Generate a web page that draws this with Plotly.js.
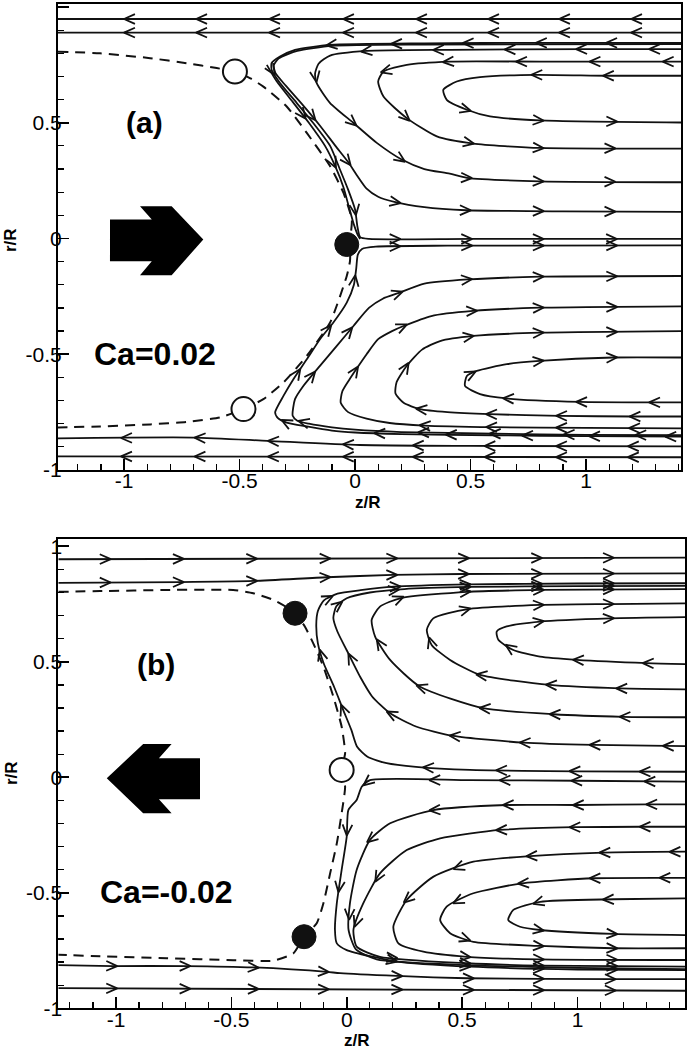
<!DOCTYPE html>
<html><head><meta charset="utf-8">
<script src="https://cdn.plot.ly/plotly-3.0.1.min.js"></script>
<style>html,body{margin:0;padding:0;background:#fff}#chart{width:687px;height:1050px}</style>
</head><body><div id="chart"></div>
<script>
// ---------------- DATA : panel (a), Ca = 0.02 ----------------
const tickVals = [-1, -0.5, 0, 0.5, 1];
const tickText = ['-1', '-0.5', '0', '0.5', '1'];
const wallArrowsA = [-0.983, -0.671, -0.355, -0.035, 0.281, 0.593, 0.90, 1.212];

const a_wall1 = {z:[1.411,-1.286], r:[0.948,0.948], az:wallArrowsA};
const a_wall2 = {z:[1.411,-1.286], r:[0.889,0.889], az:wallArrowsA};
const a_s1 = {z:[1.411,0.8,0.3,-0.108,-0.26,-0.325,-0.361,-0.361,-0.325,-0.253,-0.182,-0.108,-0.065,-0.03,0.0,0.01,0.022,0.06,0.5,1.411],
              r:[0.845,0.845,0.843,0.836,0.815,0.786,0.758,0.728,0.672,0.586,0.50,0.40,0.297,0.211,0.125,0.053,0.006,-0.002,-0.002,-0.002],
              arrows:[[-0.108,0.836],[0.173,0.843],[0.483,0.843],[0.80,0.845],[1.104,0.845],[-0.346,0.728],[0.007,0.118],[0.18,-0.002],[0.49,-0.002],[0.80,-0.002],[1.117,-0.002]]};
const a_s1b = {z:[-0.382,-0.34,-0.27,-0.2,-0.13,-0.085,-0.05,-0.025,-0.005,0.012,0.022],
               r:[0.75,0.68,0.59,0.50,0.40,0.31,0.22,0.13,0.06,0.015,-0.002],
               arrows:[[-0.23,0.527],[-0.08,0.326]]};
const a_s2 = {z:[1.411,0.3,-0.1,-0.25,-0.33,-0.352,-0.345,-0.30,-0.225,-0.15,-0.085,-0.03,0.01,0.05,0.1,0.17,0.3,0.48,0.9,1.411],
              r:[0.840,0.838,0.832,0.81,0.778,0.748,0.715,0.66,0.575,0.485,0.40,0.33,0.27,0.215,0.18,0.158,0.135,0.122,0.117,0.115],
              arrows:[[-0.187,0.52],[-0.03,0.33],[0.18,0.154],[0.484,0.122],[0.80,0.117],[1.11,0.116]]};
const a_s3 = {z:[1.411,1.0,0.41,0.05,-0.108,-0.158,-0.173,-0.166,-0.108,-0.007,0.094,0.202,0.30,0.41,0.484,0.80,1.411],
              r:[0.818,0.818,0.815,0.81,0.79,0.755,0.713,0.671,0.585,0.499,0.413,0.341,0.30,0.28,0.262,0.247,0.243],
              arrows:[[0.043,0.81],[0.354,0.816],[0.664,0.817],[0.974,0.818],[1.29,0.818],[-0.166,0.693],[-0.007,0.499],[0.202,0.341],[0.489,0.262],[0.80,0.247],[1.11,0.245]]};
const a_s4 = {z:[1.411,0.8,0.41,0.224,0.123,0.10,0.123,0.224,0.354,0.512,0.80,1.411],
              r:[0.764,0.764,0.764,0.75,0.721,0.678,0.613,0.52,0.441,0.41,0.391,0.388],
              arrows:[[0.397,0.764],[0.714,0.764],[1.032,0.764],[1.349,0.764],[0.13,0.714],[0.224,0.52],[0.498,0.41],[0.80,0.391],[1.11,0.388]]};
const a_s5 = {z:[1.411,1.09,0.78,0.541,0.44,0.382,0.397,0.484,0.584,0.80,1.411],
              r:[0.703,0.703,0.707,0.697,0.678,0.642,0.599,0.556,0.527,0.51,0.501],
              arrows:[[0.78,0.707],[1.09,0.703],[0.484,0.552],[0.80,0.51],[1.118,0.506]]};
const wallArrowsA2 = [-0.996, -0.678, -0.36, -0.036, 0.267, 0.577, 0.887, 1.198];
const a_wall3 = {z:[1.411,0.5,0.02,-0.38,-0.7,-1.286], r:[-0.898,-0.896,-0.892,-0.874,-0.86,-0.863], az:wallArrowsA2};
const a_wall4 = {z:[1.411,-1.286], r:[-0.945,-0.941], az:wallArrowsA2};
const a_l1 = {z:[1.411,1.0,0.6,0.2,0.0,-0.1,-0.209,-0.296,-0.335,-0.346,-0.31,-0.267,-0.209,-0.152,-0.094,-0.036,-0.005,0.005,0.012,0.03,0.09,0.4,1.411],
              r:[-0.856,-0.854,-0.85,-0.845,-0.838,-0.83,-0.812,-0.795,-0.775,-0.751,-0.68,-0.608,-0.522,-0.435,-0.363,-0.277,-0.2,-0.13,-0.07,-0.045,-0.035,-0.031,-0.03],
              arrows:[[-0.303,-0.79],[-0.245,-0.579],[-0.108,-0.392],[0.007,-0.177],[0.18,-0.031],[0.49,-0.031],[0.80,-0.031],[1.118,-0.031],[0.10,-0.842],[0.41,-0.848],[0.74,-0.852],[1.03,-0.855],[1.36,-0.856]]};
const a_l2 = {z:[1.411,1.0,0.6,0.2,0.0,-0.1,-0.2,-0.25,-0.27,-0.26,-0.224,-0.152,-0.079,-0.007,0.06,0.12,0.19,0.3,0.49,0.8,1.411],
              r:[-0.85,-0.848,-0.843,-0.836,-0.826,-0.816,-0.80,-0.787,-0.766,-0.694,-0.637,-0.55,-0.464,-0.378,-0.30,-0.26,-0.235,-0.195,-0.177,-0.165,-0.162],
              arrows:[[-0.23,-0.795],[-0.187,-0.586],[-0.029,-0.392],[0.19,-0.235],[0.49,-0.177],[0.80,-0.165],[1.118,-0.162],[0.29,-0.838],[0.60,-0.844],[0.92,-0.847],[1.23,-0.849]]};
const a_l3 = {z:[1.411,1.0,0.6,0.3,0.15,0.05,-0.03,-0.062,-0.055,-0.025,0.005,0.05,0.10,0.16,0.21,0.33,0.51,0.8,1.411],
              r:[-0.82,-0.818,-0.815,-0.808,-0.797,-0.778,-0.75,-0.71,-0.66,-0.61,-0.565,-0.50,-0.435,-0.40,-0.378,-0.335,-0.313,-0.299,-0.293],
              arrows:[[0.0,-0.565],[0.21,-0.38],[0.512,-0.313],[0.8,-0.299],[1.118,-0.295],[0.296,-0.809],[0.584,-0.815],[0.887,-0.817],[1.203,-0.819]]};
const a_l4 = {z:[1.411,1.205,0.887,0.584,0.4,0.281,0.21,0.175,0.18,0.224,0.29,0.368,0.512,0.80,1.411],
              r:[-0.769,-0.769,-0.766,-0.759,-0.75,-0.737,-0.71,-0.67,-0.62,-0.55,-0.48,-0.443,-0.421,-0.407,-0.40],
              arrows:[[1.205,-0.769],[0.887,-0.766],[0.584,-0.759],[0.281,-0.737],[0.231,-0.557],[0.498,-0.425],[0.80,-0.407],[1.118,-0.404]]};
const a_l5 = {z:[1.411,1.29,0.974,0.657,0.541,0.476,0.484,0.527,0.657,0.80,1.118,1.411],
              r:[-0.708,-0.708,-0.706,-0.691,-0.672,-0.637,-0.594,-0.572,-0.543,-0.529,-0.514,-0.514],
              arrows:[[1.29,-0.708],[0.974,-0.706],[0.657,-0.691],[0.505,-0.579],[0.80,-0.529],[1.118,-0.514]]};
const a_interface_z = [-1.286,-1.104,-0.887,-0.729,-0.599,-0.52,-0.45,-0.397,-0.296,-0.209,-0.108,-0.05,-0.014,-0.02,-0.022,-0.036,-0.108,-0.209,-0.31,-0.397,-0.483,-0.584,-0.729,-0.887,-1.104,-1.286];
const a_interface_r = [0.807,0.80,0.779,0.757,0.736,0.721,0.69,0.656,0.57,0.456,0.312,0.197,0.082,0.0,-0.098,-0.162,-0.363,-0.507,-0.622,-0.694,-0.737,-0.773,-0.792,-0.803,-0.812,-0.816];
const a_open_z = [-0.52, -0.483], a_open_r = [0.721, -0.737];
const a_fill_z = [-0.036], a_fill_r = [-0.026];
const a_bigArrow_z = [-1.061,-0.880,-0.931,-0.794,-0.657,-0.794,-0.931,-0.880,-1.061];
const a_bigArrow_r = [0.082,0.082,0.139,0.139,-0.004,-0.159,-0.159,-0.098,-0.098];

// ---------------- DATA : panel (b), Ca = -0.02 ----------------
const wallArrowsB = [-1.04, -0.723, -0.405, -0.087, 0.202, 0.513, 0.83, 1.141];
const b_wall1 = {z:[-1.25,1.466], r:[0.944,0.951], az:wallArrowsB};
const b_wall2 = {z:[-1.25,-0.723,-0.405,-0.087,0.2,0.5,1.466], r:[0.842,0.845,0.85,0.866,0.876,0.88,0.883], az:wallArrowsB};
const b_u1 = {z:[1.466,1.0,0.534,0.3,0.173,0.09,0.045,0.02,-0.015,-0.055,-0.1,-0.125,-0.132,-0.125,-0.1,-0.04,0.06,0.202,0.534,1.0,1.466],
              r:[0.024,0.026,0.032,0.045,0.061,0.089,0.132,0.205,0.291,0.392,0.494,0.58,0.66,0.72,0.765,0.795,0.81,0.825,0.835,0.839,0.84],
              arrows:[[0.347,0.043],[0.664,0.03],[0.982,0.026],[1.286,0.025],[-0.015,0.30],[-0.108,0.537],[-0.072,0.77],[0.217,0.826],[0.52,0.835],[0.83,0.838],[1.141,0.839]]};
const b_u2 = {z:[1.466,1.069,0.766,0.462,0.3,0.188,0.11,0.058,0.0,-0.04,-0.058,-0.045,0.0,0.1,0.25,0.534,1.0,1.466],
              r:[0.135,0.14,0.15,0.179,0.22,0.277,0.35,0.435,0.55,0.63,0.69,0.74,0.775,0.80,0.815,0.824,0.828,0.829],
              arrows:[[1.387,0.135],[1.069,0.14],[0.766,0.15],[0.462,0.179],[0.188,0.277],[0.014,0.52],[-0.029,0.745],[0.21,0.812],[0.52,0.824],[0.83,0.828],[1.141,0.829]]};
const b_u3 = {z:[1.466,1.199,0.896,0.592,0.318,0.188,0.123,0.108,0.144,0.231,0.52,0.838,1.466],
              r:[0.26,0.262,0.273,0.299,0.392,0.508,0.609,0.681,0.739,0.775,0.803,0.811,0.815],
              arrows:[[1.199,0.262],[0.896,0.273],[0.592,0.299],[0.318,0.392],[0.123,0.573],[0.231,0.775],[0.52,0.803],[0.838,0.81],[1.141,0.813]]};
const b_u4 = {z:[1.466,1.185,0.88,0.578,0.448,0.368,0.347,0.375,0.52,0.838,1.141,1.466],
              r:[0.381,0.385,0.40,0.443,0.508,0.573,0.638,0.688,0.727,0.746,0.75,0.753],
              arrows:[[1.185,0.385],[0.88,0.40],[0.578,0.443],[0.354,0.587],[0.52,0.727],[0.838,0.746],[1.141,0.75]]};
const b_u5 = {z:[1.466,1.3,0.997,0.838,0.722,0.657,0.65,0.693,0.838,1.141,1.466],
              r:[0.49,0.494,0.508,0.522,0.551,0.595,0.631,0.653,0.674,0.688,0.693],
              arrows:[[1.3,0.494],[0.997,0.508],[0.70,0.56],[0.838,0.674],[1.141,0.688]]};
const b_d1 = {z:[1.466,1.0,0.535,0.101,0.065,0.043,0.007,0.0,-0.022,-0.043,-0.051,-0.043,0.0,0.217,0.535,1.0,1.466],
              r:[-0.019,-0.015,-0.012,-0.012,-0.041,-0.098,-0.142,-0.257,-0.401,-0.545,-0.661,-0.719,-0.748,-0.798,-0.82,-0.832,-0.835],
              arrows:[[1.307,-0.017],[0.99,-0.015],[0.679,-0.013],[0.375,-0.012],[0.087,-0.026],[0.0,-0.235],[-0.035,-0.48],[0.202,-0.795],[0.52,-0.82],[0.838,-0.83],[1.156,-0.833]]};
const b_d2 = {z:[1.466,1.315,0.997,0.693,0.375,0.188,0.101,0.043,0.014,0.008,0.04,0.13,0.52,1.0,1.466],
              r:[-0.117,-0.117,-0.12,-0.12,-0.142,-0.199,-0.271,-0.401,-0.545,-0.661,-0.745,-0.788,-0.813,-0.825,-0.831],
              arrows:[[1.315,-0.117],[0.997,-0.12],[0.693,-0.12],[0.375,-0.142],[0.101,-0.271],[0.02,-0.6]]};
const b_d3 = {z:[1.466,1.286,0.982,0.664,0.405,0.26,0.144,0.072,0.029,0.043,0.144,0.52,0.838,1.466],
              r:[-0.214,-0.214,-0.216,-0.228,-0.264,-0.315,-0.416,-0.545,-0.661,-0.733,-0.777,-0.805,-0.815,-0.82],
              arrows:[[1.286,-0.214],[0.982,-0.216],[0.664,-0.228],[0.144,-0.444],[0.035,-0.63],[0.202,-0.79],[0.52,-0.805],[0.838,-0.815],[1.156,-0.818]]};
const b_d4 = {z:[1.466,1.112,0.795,0.549,0.376,0.26,0.202,0.224,0.332,0.52,0.838,1.466],
              r:[-0.322,-0.326,-0.341,-0.365,-0.43,-0.531,-0.647,-0.719,-0.755,-0.777,-0.788,-0.791],
              arrows:[[1.416,-0.322],[1.112,-0.326],[0.795,-0.341],[0.477,-0.387],[0.26,-0.531],[0.52,-0.777],[0.838,-0.788],[1.156,-0.79]]};
const b_d5 = {z:[1.466,1.372,1.069,0.759,0.549,0.433,0.405,0.448,0.549,0.838,1.156,1.466],
              r:[-0.435,-0.435,-0.437,-0.459,-0.502,-0.56,-0.618,-0.675,-0.712,-0.73,-0.74,-0.74],
              arrows:[[1.372,-0.435],[1.069,-0.437],[0.759,-0.459],[0.477,-0.539],[0.52,-0.701],[0.838,-0.73],[1.156,-0.74]]};
const b_d6 = {z:[1.466,1.156,0.838,0.722,0.70,0.751,0.838,1.156,1.466],
              r:[-0.524,-0.528,-0.539,-0.574,-0.618,-0.647,-0.661,-0.678,-0.683],
              arrows:[[1.127,-0.526],[0.824,-0.542],[0.838,-0.661],[1.156,-0.678]]};
const wallArrowsB2 = [-1.012, -0.694, -0.398, -0.094, 0.224, 0.534, 0.838, 1.149];
const b_wall3 = {z:[-1.25,-1.012,-0.694,-0.405,-0.087,-0.029,0.217,0.52,1.156,1.466], r:[-0.813,-0.817,-0.817,-0.823,-0.842,-0.848,-0.86,-0.87,-0.874,-0.874], az:wallArrowsB2};
const b_wall4 = {z:[-1.25,1.466], r:[-0.913,-0.924], az:wallArrowsB2};
const b_interface_z = [-1.25,-1.069,-0.78,-0.492,-0.405,-0.318,-0.26,-0.224,-0.181,-0.145,-0.101,-0.058,-0.022,-0.007,-0.022,-0.007,-0.022,-0.043,-0.072,-0.101,-0.13,-0.185,-0.231,-0.318,-0.492,-0.78,-1.069,-1.25];
const b_interface_r = [0.803,0.806,0.811,0.811,0.797,0.768,0.736,0.71,0.652,0.58,0.479,0.349,0.219,0.104,0.032,-0.041,-0.156,-0.286,-0.416,-0.545,-0.632,-0.69,-0.762,-0.794,-0.792,-0.783,-0.775,-0.768];
const b_open_z = [-0.022], b_open_r = [0.032];
const b_fill_z = [-0.224, -0.185], b_fill_r = [0.71, -0.69];
const b_bigArrow_z = [-1.040,-0.882,-0.759,-0.814,-0.636,-0.636,-0.814,-0.759,-0.882];
const b_bigArrow_r = [-0.004,0.144,0.144,0.082,0.082,-0.095,-0.095,-0.156,-0.156];

// ---------------- LAYOUT GEOMETRY ----------------
const W = 687, H = 1050;
const geoA = {xdom:[58/687, 681/687], ydom:[1-470/1050, 1-3.5/1050], xr:[-1.286,1.411], yr:[-1,1.015]};
const geoB = {xdom:[58.3/687, 685/687], ydom:[1-1008.3/1050, 1-539/1050], xr:[-1.25,1.466], yr:[-1,1.0316]};
const INK = '#111';

function scales(g){
  return {kx:(g.xdom[1]-g.xdom[0])*W/(g.xr[1]-g.xr[0]), ky:(g.ydom[1]-g.ydom[0])*H/(g.yr[1]-g.yr[0])};
}
function arrowPoints(line){
  if (line.arrows) return line.arrows;
  return line.az.map(z => [z, null]);
}
function chevrons(lines, g){
  const {kx, ky} = scales(g);
  const X = [], Y = [];
  const L = 12, ang = 24*Math.PI/180, ahead = 4;
  lines.forEach(line => {
    const n = line.z.length;
    arrowPoints(line).forEach(p => {
      let best = null;
      for (let i = 0; i < n-1; i++){
        const ax = line.z[i]*kx, ay = line.r[i]*ky, bx = line.z[i+1]*kx, by = line.r[i+1]*ky;
        const dx = bx-ax, dy = by-ay, len2 = dx*dx+dy*dy;
        if (len2 === 0) continue;
        if (p[1] === null){
          const t = (p[0]*kx-ax)/dx;
          if (!(t>=0 && t<=1)) continue;
          best = {tx:ax+t*dx, ty:ay+t*dy, dx, dy, d:0}; break;
        }
        const px = p[0]*kx, py = p[1]*ky;
        let t = ((px-ax)*dx+(py-ay)*dy)/len2; t = Math.max(0, Math.min(1, t));
        const qx = ax+t*dx, qy = ay+t*dy, d = (qx-px)**2+(qy-py)**2;
        if (!best || d < best.d) best = {tx:qx, ty:qy, dx, dy, d};
      }
      if (!best) return;
      const l = Math.hypot(best.dx, best.dy), ux = best.dx/l, uy = best.dy/l;
      const tx = best.tx+ahead*ux, ty = best.ty+ahead*uy;
      const c = Math.cos(ang)*L, s = Math.sin(ang)*L;
      X.push((tx-c*ux-s*uy)/kx, tx/kx, (tx-c*ux+s*uy)/kx, null);
      Y.push((ty-c*uy+s*ux)/ky, ty/ky, (ty-c*uy-s*ux)/ky, null);
    });
  });
  return {X, Y};
}

const traces = [];
function panel(lines, iface, open, fill, g, xa, ya){
  lines.forEach(line => traces.push({type:'scatter', mode:'lines', x:line.z, y:line.r, xaxis:xa, yaxis:ya,
    line:{color:INK, width:1.8, shape:'spline', smoothing:0.6}, hoverinfo:'skip', showlegend:false}));
  const ch = chevrons(lines, g);
  traces.push({type:'scatter', mode:'lines', x:ch.X, y:ch.Y, xaxis:xa, yaxis:ya,
    line:{color:INK, width:1.8}, hoverinfo:'skip', showlegend:false});
  traces.push({type:'scatter', mode:'lines', x:iface[0], y:iface[1], xaxis:xa, yaxis:ya,
    line:{color:INK, width:2, dash:'10px,7px', shape:'spline', smoothing:0.5}, hoverinfo:'skip', showlegend:false});
  traces.push({type:'scatter', mode:'markers', x:open[0], y:open[1], xaxis:xa, yaxis:ya,
    marker:{size:24, color:'white', line:{color:INK, width:2}}, hoverinfo:'skip', showlegend:false});
  traces.push({type:'scatter', mode:'markers', x:fill[0], y:fill[1], xaxis:xa, yaxis:ya,
    marker:{size:24, color:INK, line:{color:INK, width:1}}, hoverinfo:'skip', showlegend:false});
}
panel([a_wall1,a_wall2,a_s1,a_s1b,a_s2,a_s3,a_s4,a_s5,a_wall3,a_wall4,a_l1,a_l2,a_l3,a_l4,a_l5],
      [a_interface_z,a_interface_r],[a_open_z,a_open_r],[a_fill_z,a_fill_r], geoA, 'x', 'y');
panel([b_wall1,b_wall2,b_u1,b_u2,b_u3,b_u4,b_u5,b_d1,b_d2,b_d3,b_d4,b_d5,b_d6,b_wall3,b_wall4],
      [b_interface_z,b_interface_r],[b_open_z,b_open_r],[b_fill_z,b_fill_r], geoB, 'x2', 'y2');

const tickFont = {family:'Liberation Sans, Arial, sans-serif', size:21, color:'#000'};
function baseAxis(g, anchor){
  return {domain:g.xdom, range:g.xr, anchor, showgrid:false, zeroline:false, showline:true, mirror:true,
    linecolor:'#000', linewidth:2, ticks:'inside', ticklen:11, tickwidth:1.6, tickcolor:'#000',
    tickvals:tickVals, ticktext:tickText, tickfont:tickFont, ticklabelstandoff:-9,
    minor:{ticks:'inside', ticklen:6, tickwidth:1.2, tickcolor:'#000', dtick:0.1, tick0:0, showgrid:false}, fixedrange:true};
}
function yaxis(g, anchor){
  const a = baseAxis(g, anchor); a.domain = g.ydom; a.range = g.yr; a.ticklabelstandoff = -10; return a;
}
function pathOf(zs, rs){ return 'M' + zs.map((z,i)=>z+','+rs[i]).join('L') + 'Z'; }

const bold = {family:'Liberation Sans, Arial, sans-serif', color:'#000', weight:'bold'};
function lab(o){ return Object.assign({showarrow:false, xanchor:'center', yanchor:'middle'}, o); }
const layout = {
  width:W, height:H, margin:{l:0,r:0,t:0,b:0}, paper_bgcolor:'white', plot_bgcolor:'white', showlegend:false,
  xaxis:baseAxis(geoA,'y'), yaxis:yaxis(geoA,'x'), xaxis2:baseAxis(geoB,'y2'), yaxis2:yaxis(geoB,'x2'),
  shapes:[
    {type:'path', xref:'x', yref:'y', path:pathOf(a_bigArrow_z,a_bigArrow_r), fillcolor:'#000', line:{width:0}},
    {type:'path', xref:'x2', yref:'y2', path:pathOf(b_bigArrow_z,b_bigArrow_r), fillcolor:'#000', line:{width:0}}
  ],
  annotations:[
    lab({xref:'x', yref:'y', x:-0.913, y:0.50, text:'(a)', font:Object.assign({size:30}, bold)}),
    lab({xref:'x', yref:'y', x:-0.866, y:-0.50, text:'Ca=0.02', font:Object.assign({size:32}, bold)}),
    lab({xref:'x2', yref:'y2', x:-0.827, y:0.49, text:'(b)', font:Object.assign({size:30}, bold)}),
    lab({xref:'x2', yref:'y2', x:-0.78, y:-0.495, text:'Ca=-0.02', font:Object.assign({size:32}, bold)}),
    lab({xref:'paper', yref:'paper', x:11/W, y:1-240/H, text:'r/R', textangle:-90, font:Object.assign({size:17}, bold)}),
    lab({xref:'paper', yref:'paper', x:11/W, y:1-773/H, text:'r/R', textangle:-90, font:Object.assign({size:17}, bold)}),
    lab({xref:'paper', yref:'paper', x:368/W, y:1-502/H, text:'z/R', font:Object.assign({size:17}, bold)}),
    lab({xref:'paper', yref:'paper', x:357/W, y:1-1040/H, text:'z/R', font:Object.assign({size:17}, bold)})
  ]
};
Plotly.newPlot('chart', traces, layout, {staticPlot:true, displayModeBar:false});
</script></body></html>
